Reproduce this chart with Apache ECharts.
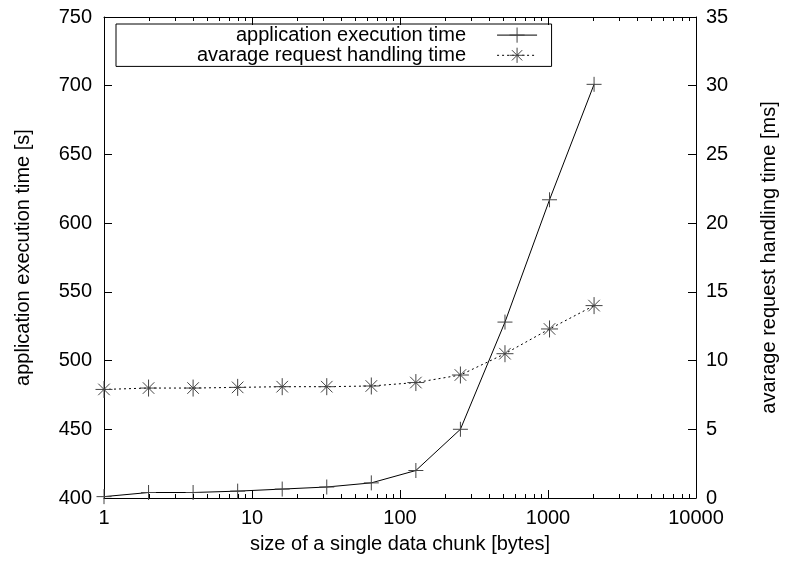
<!DOCTYPE html>
<html>
<head>
<meta charset="utf-8">
<script src="https://cdn.jsdelivr.net/npm/echarts@6/dist/echarts.min.js"></script>
<style>
html,body{margin:0;padding:0;background:#fff;}
#chart{width:787px;height:566px;}
</style>
</head>
<body>
<div id="chart"></div>
<script>
// ---- data ----
const chunkSizes = [1, 2, 4, 8, 16, 32, 64, 128, 256, 512, 1024, 2048];
const execTime = [401, 404, 404, 405, 406.5, 408, 411, 420, 450, 528, 617, 701];
const requestTime = [7.9, 8.0, 8.0, 8.05, 8.1, 8.1, 8.15, 8.4, 8.95, 10.5, 12.3, 14.0];
const seriesNames = ['application execution time', 'avarage request handling time'];
const xRange = [1, 10000];
const leftRange = [400, 750, 50];
const rightRange = [0, 35, 5];
// minor ticks of the log axis (2..9 in each decade)
const minorTicks = [];
for (let d = 1; d < 10000; d *= 10) {
  for (let k = 2; k <= 9; k++) minorTicks.push(k * d);
}

const FONT = 'Liberation Sans';
const FS = 20;
const plusPath = 'path://M5 0 L5 10 M0 5 L10 5';
const starPath = 'path://M5 0 L5 10 M0 5 L10 5 M1.6 1.6 L8.4 8.4 M8.4 1.6 L1.6 8.4';

const chart = echarts.init(document.getElementById('chart'), null, {renderer: 'canvas'});
const axisLineStyle = {color: '#000', width: 1};
const labelStyle = {color: '#000', fontFamily: FONT, fontSize: FS};
const markerStyle = {color: 'none', borderColor: '#444', borderWidth: 1};

chart.setOption({
  backgroundColor: '#fff',
  animation: false,
  textStyle: {fontFamily: FONT},
  grid: {left: 104, right: 85, top: 17, bottom: 68, containLabel: false},
  legend: {
    data: seriesNames,
    orient: 'vertical',
    align: 'right',
    left: 116,
    top: 24,
    padding: [1, 14, 1, 81],
    itemGap: 0,
    itemWidth: 40,
    itemHeight: 19,
    borderColor: '#000',
    borderWidth: 1,
    borderRadius: 0,
    selectedMode: false,
    lineStyle: {width: 1},
    itemStyle: {borderWidth: 1},
    textStyle: {color: '#000', fontFamily: FONT, fontSize: FS, lineHeight: 19, padding: [0, 26, 0, 0]}
  },
  xAxis: [
    {
      type: 'log', logBase: 10, min: xRange[0], max: xRange[1],
      name: 'size of a single data chunk [bytes]',
      nameLocation: 'middle', nameGap: 36,
      nameTextStyle: labelStyle,
      axisLine: {lineStyle: axisLineStyle},
      axisTick: {inside: true, length: 8, lineStyle: axisLineStyle},
      axisLabel: Object.assign({margin: 10, formatter: v => String(Math.round(v))}, labelStyle),
      splitLine: {show: false},
      minorTick: {show: false},
      minorSplitLine: {show: false}
    },
    {
      type: 'log', logBase: 10, min: xRange[0], max: xRange[1], position: 'top',
      axisLine: {lineStyle: axisLineStyle},
      axisTick: {inside: true, length: 8, lineStyle: axisLineStyle},
      axisLabel: {show: false},
      splitLine: {show: false}
    }
  ],
  yAxis: [
    {
      type: 'value', min: leftRange[0], max: leftRange[1], interval: leftRange[2],
      position: 'left',
      name: 'application execution time [s]',
      nameLocation: 'middle', nameGap: 71, nameRotate: 90,
      nameTextStyle: labelStyle,
      axisLine: {show: true, lineStyle: axisLineStyle},
      axisTick: {show: true, inside: true, length: 8, lineStyle: axisLineStyle},
      axisLabel: Object.assign({margin: 12}, labelStyle),
      splitLine: {show: false}
    },
    {
      type: 'value', min: rightRange[0], max: rightRange[1], interval: rightRange[2],
      position: 'right',
      name: 'avarage request handling time [ms]',
      nameLocation: 'middle', nameGap: 63, nameRotate: 90,
      nameTextStyle: labelStyle,
      axisLine: {show: true, lineStyle: axisLineStyle},
      axisTick: {show: true, inside: true, length: 8, lineStyle: axisLineStyle},
      axisLabel: Object.assign({margin: 10}, labelStyle),
      splitLine: {show: false}
    }
  ],
  series: [
    {
      name: seriesNames[0],
      type: 'line',
      xAxisIndex: 0, yAxisIndex: 0,
      data: chunkSizes.map((x, i) => [x, execTime[i]]),
      symbol: plusPath,
      symbolSize: 15,
      itemStyle: markerStyle,
      lineStyle: {color: '#000', width: 1, type: 'solid'},
      emphasis: {disabled: true},
      z: 3
    },
    {
      name: seriesNames[1],
      type: 'line',
      xAxisIndex: 0, yAxisIndex: 1,
      data: chunkSizes.map((x, i) => [x, requestTime[i]]),
      symbol: starPath,
      symbolSize: 17,
      itemStyle: markerStyle,
      lineStyle: {color: '#000', width: 1, type: [2, 3]},
      emphasis: {disabled: true},
      z: 3
    },
    {
      name: 'minor ticks',
      type: 'custom',
      xAxisIndex: 0, yAxisIndex: 0,
      silent: true,
      clip: false,
      data: minorTicks.map(v => [v, leftRange[0]]),
      renderItem: function (params, api) {
        const x = api.value(0);
        const b = api.coord([x, leftRange[0]]);
        const t = api.coord([x, leftRange[1]]);
        const px = Math.round(b[0]) + 0.5;
        return {
          type: 'group',
          children: [
            {type: 'line', shape: {x1: px, y1: b[1], x2: px, y2: b[1] - 4}, style: {stroke: '#000', lineWidth: 1}},
            {type: 'line', shape: {x1: px, y1: t[1], x2: px, y2: t[1] + 4}, style: {stroke: '#000', lineWidth: 1}}
          ]
        };
      },
      z: 4
    }
  ]
});
</script>
</body>
</html>
